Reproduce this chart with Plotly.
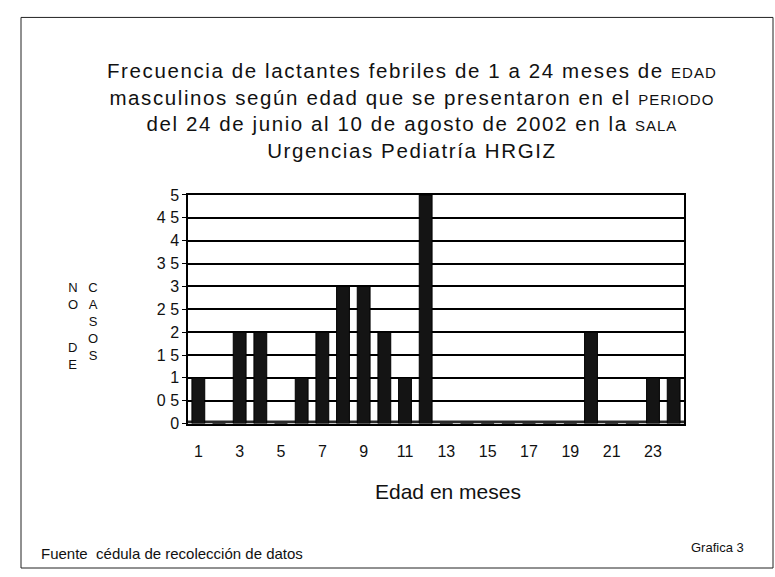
import plotly.graph_objects as go

W, H = 775, 577
months = list(range(1, 25))
casos = [1, 0, 2, 2, 0, 1, 2, 3, 3, 2, 1, 5, 0, 0, 0, 0, 0, 0, 0, 2, 0, 0, 1, 1]
ytick_vals = [0, 0.5, 1, 1.5, 2, 2.5, 3, 3.5, 4, 4.5, 5]
ytick_text = ["0", "0 5", "1", "1 5", "2", "2 5", "3", "3 5", "4", "4 5", "5"]
xtick_vals = list(range(1, 24, 2))

def px(x):
    return x / W

def py(y):
    # compensate for observed vertical mapping of the capture
    return 1 - ((y - 8.6) / 0.9677) / H

FONT = "Liberation Sans, Arial, sans-serif"
INK = "#111"

fig = go.Figure()
fig.add_trace(go.Bar(
    x=months, y=casos, width=0.62,
    marker=dict(color="#141414", line=dict(color="#000", width=1)),
))

sp = "<span style='letter-spacing:1.6px'>%s</span>"
sc = "<span style='font-size:15px;letter-spacing:1px'>%s</span>"
title_lines = [
    sp % "Frecuencia de lactantes febriles de 1 a 24 meses de " + sc % "EDAD",
    sp % "masculinos según edad que se presentaron en el " + sc % "PERIODO",
    sp % "del 24 de junio al 10 de agosto de 2002 en la " + sc % "SALA",
    sp % "Urgencias Pediatría HRGIZ",
]
ann = [dict(x=px(412), y=py(111), xref="paper", yref="paper",
            text="<br>".join(title_lines), showarrow=False,
            font=dict(size=20.5, color=INK, family=FONT),
            xanchor="center", yanchor="middle", align="center")]
ann += [
    dict(x=px(448), y=py(491), xref="paper", yref="paper", text="Edad en meses",
         showarrow=False, font=dict(size=21, color=INK, family=FONT), yanchor="middle"),
    dict(x=px(66), y=py(296), xref="paper", yref="paper", text="N<br>O",
         showarrow=False, font=dict(size=13, color=INK, family=FONT), yanchor="middle"),
    dict(x=px(66), y=py(356), xref="paper", yref="paper", text="D<br>E",
         showarrow=False, font=dict(size=13, color=INK, family=FONT), yanchor="middle"),
    dict(x=px(86), y=py(321), xref="paper", yref="paper", text="C<br>A<br>S<br>O<br>S",
         showarrow=False, font=dict(size=13, color=INK, family=FONT), yanchor="middle"),
    dict(x=px(39), y=py(553), xref="paper", yref="paper",
         text="Fuente  cédula de recolección de datos", showarrow=False,
         font=dict(size=15, color=INK, family=FONT), xanchor="left", yanchor="middle"),
    dict(x=px(689), y=py(547), xref="paper", yref="paper", text="Grafica 3",
         showarrow=False, font=dict(size=13, color=INK, family=FONT), xanchor="left",
         yanchor="middle"),
]

shapes = [
    dict(type="rect", xref="paper", yref="paper", x0=px(21), x1=px(773), y0=0, y1=py(18),
         line=dict(color="#222", width=1)),
    dict(type="rect", xref="x domain", yref="y", x0=0, x1=1, y0=0, y1=0.07,
         fillcolor="#2a2a2a", line=dict(width=0), layer="below"),
]

fig.update_layout(
    width=W, height=H, margin=dict(l=0, r=0, t=0, b=0),
    paper_bgcolor="white", plot_bgcolor="white", showlegend=False,
    annotations=ann, shapes=shapes,
    xaxis=dict(domain=[px(188), px(684)], range=[0.5, 24.5], tickvals=xtick_vals,
               ticktext=[str(v) for v in xtick_vals], showgrid=False, showline=True,
               linecolor="#000", linewidth=1.5, mirror=True, ticks="outside", ticklen=12,
               tickcolor="rgba(0,0,0,0)", zeroline=False,
               tickfont=dict(size=16, color=INK, family=FONT)),
    yaxis=dict(domain=[py(423), py(195)], range=[0, 5], tickvals=ytick_vals, ticktext=ytick_text,
               showgrid=True, gridcolor="#000", gridwidth=1.8, showline=True, linecolor="#000",
               linewidth=1.5, mirror=True, ticks="outside", ticklen=4, tickcolor="#000",
               zeroline=False, tickfont=dict(size=16, color=INK, family=FONT)),
)

fig.write_html("out.html", config={"displayModeBar": False},
               post_script="document.body.style.margin='0';document.body.style.overflow='hidden';")
